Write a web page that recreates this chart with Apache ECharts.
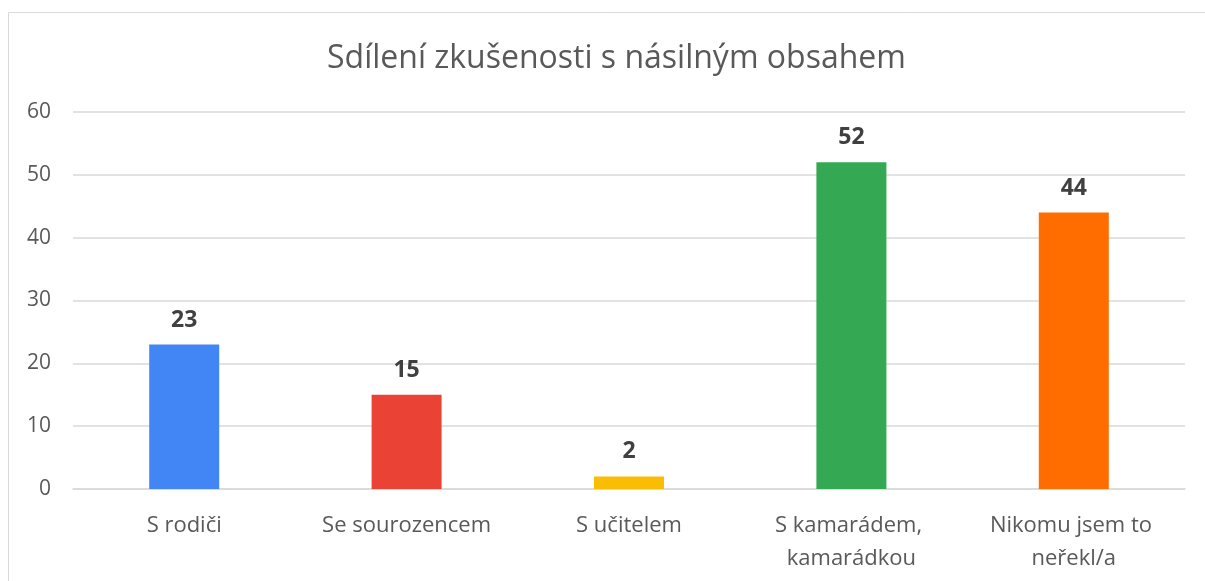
<!DOCTYPE html>
<html>
<head>
<meta charset="UTF-8">
<title></title>
<script src="https://cdn.jsdelivr.net/npm/echarts@6/dist/echarts.min.js"></script>
<style>
    *{ padding:0; margin:0; }
    body{ background:#fff; }
    #main{ width:1205px; height:581px; }
</style>
</head>
<body>
<div id="main"></div>
<script>
var categories = ['S rodiči', 'Se sourozencem', 'S učitelem', 'S kamarádem, kamarádkou', 'Nikomu jsem to neřekl/a'];
var values = [23, 15, 2, 52, 44];
var barColors = ['#4285F4', '#EA4335', '#FBBC04', '#34A853', '#FF6D01'];

var font = 'Open Sans';
var myChart = echarts.init(document.getElementById('main'));

var option = {
    animation: false,
    title: {
        text: 'Sdílení zkušenosti s násilným obsahem',
        left: 322,
        top: 38,
        textStyle: { fontFamily: font, fontSize: 32, fontWeight: 'normal', color: '#595959' }
    },
    graphic: [{
        type: 'rect',
        shape: { x: 8.5, y: 12.5, width: 1200, height: 600 },
        style: { fill: 'none', stroke: '#d9d9d9', lineWidth: 1 },
        silent: true
    }],
    grid: { left: 73, right: 20, top: 112, bottom: 92, containLabel: false },
    xAxis: {
        type: 'category',
        data: categories,
        axisLine: { lineStyle: { color: '#d9d9d9', width: 1.5 } },
        axisTick: { show: false },
        axisLabel: {
            fontFamily: font, fontSize: 22, color: '#595959',
            margin: 20, lineHeight: 33,
            width: 200, overflow: 'break', interval: 0
        }
    },
    yAxis: {
        type: 'value',
        min: 0, max: 60, interval: 10,
        axisLine: { show: false },
        axisTick: { show: false },
        splitLine: { lineStyle: { color: '#d9d9d9', width: 1.5 } },
        axisLabel: { fontFamily: font, fontSize: 21, color: '#595959', margin: 22 }
    },
    series: [{
        type: 'bar',
        barWidth: 70,
        data: values.map(function (v, i) {
            return { value: v, itemStyle: { color: barColors[i] } };
        }),
        label: {
            show: true, position: 'top', distance: 13,
            fontFamily: font, fontSize: 23, fontWeight: 'bold', color: '#404040'
        }
    }]
};

myChart.setOption(option);
</script>
</body>
</html>
